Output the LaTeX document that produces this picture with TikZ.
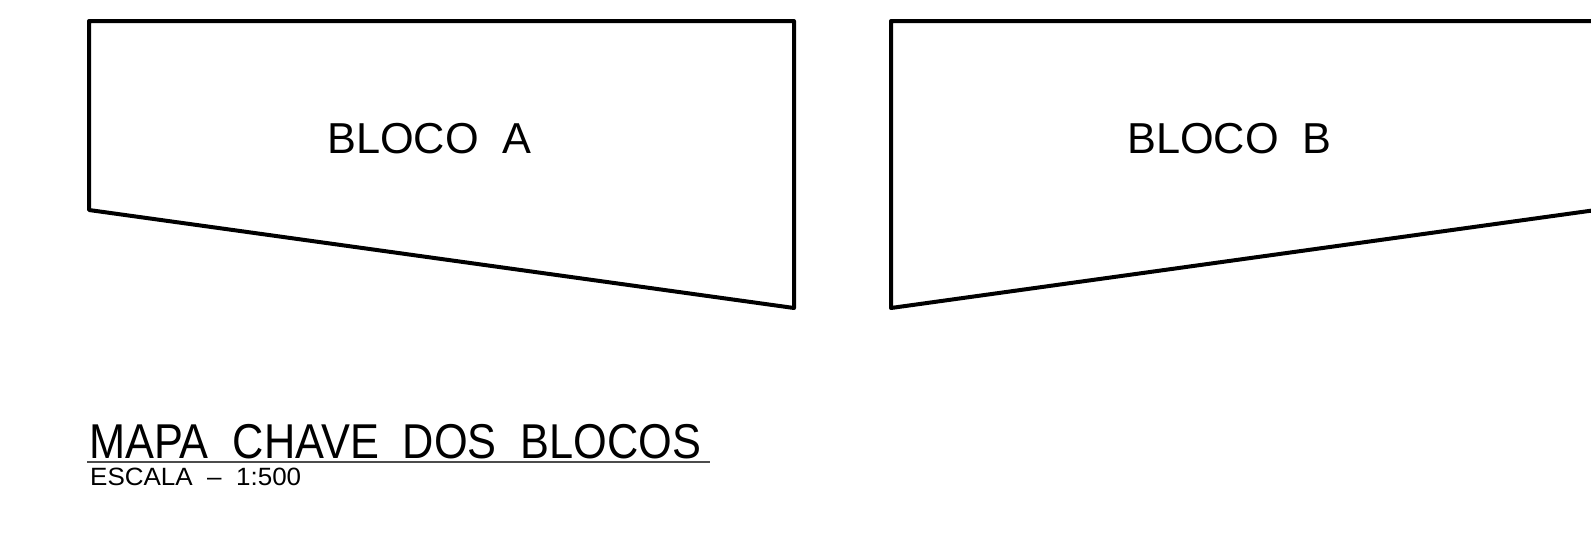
\documentclass[tikz,border=0pt]{standalone}
\usepackage{fontspec}
\setmainfont{Liberation Sans}
\usepackage{graphicx}
\begin{document}
\begin{tikzpicture}[x=1pt,y=-1pt,
  outline/.style={line width=4pt,line join=round,draw=black},
  label/.style={inner sep=0pt,anchor=base west,font=\fontsize{43.3}{44}\selectfont}]
\useasboundingbox (0,0) rectangle (1591,541);
% Bloco A
\coordinate (a1) at (89,21);
\coordinate (a2) at (794,21);
\coordinate (a3) at (794,308);
\coordinate (a4) at (89,210);
\draw[outline] (a1) -- (a2) -- (a3) -- (a4) -- cycle;
% Bloco B
\coordinate (b1) at (891,21);
\coordinate (b2) at (1596,21);
\coordinate (b3) at (1596,210);
\coordinate (b4) at (891,308);
\draw[outline] (b1) -- (b2) -- (b3) -- (b4) -- cycle;
\node[label] (la) at (327,153) {BLOCO\ \ A};
\node[label] (lb) at (1127,153) {BLOCO\ \ B};
% Title
\node[inner sep=0pt,anchor=base west,font=\fontsize{48.9}{50}\selectfont] (title) at (89,458) {\scalebox{0.886}[1]{MAPA\ \ CHAVE\ \ DOS\ \ BLOCOS}};
\coordinate (u1) at (87,462);
\coordinate (u2) at (710,462);
\draw[line width=1.5pt,draw=black!70] (u1) -- (u2);
\node[inner sep=0pt,anchor=base west,font=\fontsize{25}{26}\selectfont] (scale) at (90,485) {\scalebox{1.04}[1]{ESCALA\ \ --\ \ 1:500}};
\end{tikzpicture}
\end{document}
